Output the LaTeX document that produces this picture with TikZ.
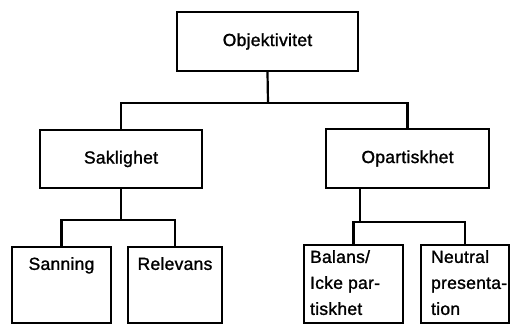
\documentclass[tikz,border=0pt]{standalone}
\usepackage{fontspec}
\newfontfamily\rutafont[LetterSpace=1.5, FakeBold=1.3]{Liberation Sans}
\usepackage{tikz}
\usetikzlibrary{positioning, calc}

\tikzset{
  ruta/.style={draw=black, line width=2.2pt, fill=white, inner sep=0pt},
  blad/.style={ruta, anchor=north},
  etikett/.style={font=\rutafont\fontsize{17.5}{26}\selectfont, inner sep=0pt},
  linje/.style={draw=black, line width=2.2pt}
}

\begin{document}
\begin{tikzpicture}[x=1pt, y=-1pt]
    \useasboundingbox (0,0) rectangle (511,324);
    \clip (0,0) rectangle (511,324);
    \fill[white] (0,0) rectangle (511,324);

    % Toppnivå
    \node[ruta, etikett, minimum width=181pt, minimum height=59pt] (obj) at (267.5,41.5) {Objektivitet};

    % Andra nivån
    \node[ruta, etikett, minimum width=162pt, minimum height=58pt] (sak) at (121,159) {Saklighet};
    \node[ruta, etikett, minimum width=163pt, minimum height=59pt] (opa) at (407.5,158.5) {Opartiskhet};

    % Tredje nivån
    \node[blad, minimum width=99pt, minimum height=76pt] (sann) at (61.5,246) {};
    \node[blad, minimum width=94pt, minimum height=76pt] (rel) at (175,246) {};
    \node[blad, minimum width=99pt, minimum height=78pt] (bal) at (353.5,244) {};
    \node[blad, minimum width=88pt, minimum height=78pt] (neu) at (465,244) {};

    \node[etikett, anchor=north] (sanntxt) at ($(sann.north)+(0,11)$) {Sanning};
    \node[etikett, anchor=north] (reltxt) at ($(rel.north)+(0,11)$) {Relevans};
    \node[etikett, anchor=north west, align=left] (baltxt) at ($(bal.north west)+(7,6)$) {Balans/\\Icke par-\\tiskhet};
    \node[etikett, anchor=north west, align=left] (neutxt) at ($(neu.north west)+(11,6)$) {Neutral\\presenta-\\tion};

    % Förgreningar
    \coordinate (jtop) at (268,103);
    \coordinate (jsak) at (121,220);
    \coordinate (jopa) at (360,222);

    \draw[linje] (obj.south) -- (jtop);
    \draw[linje] (sak.north) |- (jtop) -| (opa.north);

    \draw[linje] (sak.south) -- (jsak);
    \draw[linje] (sann.north) |- (jsak) -| (rel.north);

    \draw[linje] (jopa |- opa.south) -- (jopa);
    \draw[linje] (bal.north) |- (jopa) -| (neu.north);
\end{tikzpicture}
\end{document}
